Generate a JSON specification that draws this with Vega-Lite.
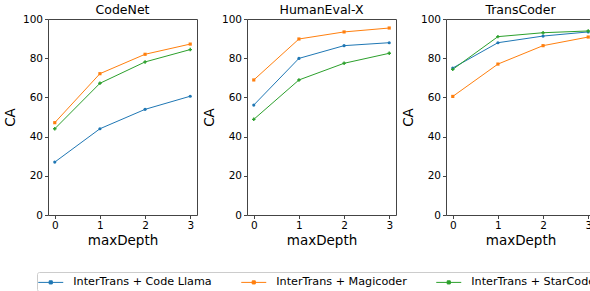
{
  "$schema": "https://vega.github.io/schema/vega-lite/v6.json",
  "padding": {"left": 2, "top": 3, "right": 0, "bottom": 0},
  "spacing": 3,
  "datasets": {
    "d": [
      {"dataset": "CodeNet", "model": "InterTrans + Code Llama", "depth": 0, "ca": 27.0},
      {"dataset": "CodeNet", "model": "InterTrans + Code Llama", "depth": 1, "ca": 44.0},
      {"dataset": "CodeNet", "model": "InterTrans + Code Llama", "depth": 2, "ca": 53.9},
      {"dataset": "CodeNet", "model": "InterTrans + Code Llama", "depth": 3, "ca": 60.6},
      {"dataset": "CodeNet", "model": "InterTrans + Magicoder", "depth": 0, "ca": 47.1},
      {"dataset": "CodeNet", "model": "InterTrans + Magicoder", "depth": 1, "ca": 72.1},
      {"dataset": "CodeNet", "model": "InterTrans + Magicoder", "depth": 2, "ca": 82.0},
      {"dataset": "CodeNet", "model": "InterTrans + Magicoder", "depth": 3, "ca": 87.2},
      {"dataset": "CodeNet", "model": "InterTrans + StarCoder2", "depth": 0, "ca": 44.0},
      {"dataset": "CodeNet", "model": "InterTrans + StarCoder2", "depth": 1, "ca": 67.2},
      {"dataset": "CodeNet", "model": "InterTrans + StarCoder2", "depth": 2, "ca": 78.1},
      {"dataset": "CodeNet", "model": "InterTrans + StarCoder2", "depth": 3, "ca": 84.4},
      {"dataset": "HumanEval-X", "model": "InterTrans + Code Llama", "depth": 0, "ca": 56.1},
      {"dataset": "HumanEval-X", "model": "InterTrans + Code Llama", "depth": 1, "ca": 79.9},
      {"dataset": "HumanEval-X", "model": "InterTrans + Code Llama", "depth": 2, "ca": 86.4},
      {"dataset": "HumanEval-X", "model": "InterTrans + Code Llama", "depth": 3, "ca": 87.9},
      {"dataset": "HumanEval-X", "model": "InterTrans + Magicoder", "depth": 0, "ca": 68.9},
      {"dataset": "HumanEval-X", "model": "InterTrans + Magicoder", "depth": 1, "ca": 89.8},
      {"dataset": "HumanEval-X", "model": "InterTrans + Magicoder", "depth": 2, "ca": 93.4},
      {"dataset": "HumanEval-X", "model": "InterTrans + Magicoder", "depth": 3, "ca": 95.4},
      {"dataset": "HumanEval-X", "model": "InterTrans + StarCoder2", "depth": 0, "ca": 48.8},
      {"dataset": "HumanEval-X", "model": "InterTrans + StarCoder2", "depth": 1, "ca": 68.9},
      {"dataset": "HumanEval-X", "model": "InterTrans + StarCoder2", "depth": 2, "ca": 77.4},
      {"dataset": "HumanEval-X", "model": "InterTrans + StarCoder2", "depth": 3, "ca": 82.5},
      {"dataset": "TransCoder", "model": "InterTrans + Code Llama", "depth": 0, "ca": 75.0},
      {"dataset": "TransCoder", "model": "InterTrans + Code Llama", "depth": 1, "ca": 87.9},
      {"dataset": "TransCoder", "model": "InterTrans + Code Llama", "depth": 2, "ca": 91.3},
      {"dataset": "TransCoder", "model": "InterTrans + Code Llama", "depth": 3, "ca": 93.4},
      {"dataset": "TransCoder", "model": "InterTrans + Magicoder", "depth": 0, "ca": 60.5},
      {"dataset": "TransCoder", "model": "InterTrans + Magicoder", "depth": 1, "ca": 77.0},
      {"dataset": "TransCoder", "model": "InterTrans + Magicoder", "depth": 2, "ca": 86.4},
      {"dataset": "TransCoder", "model": "InterTrans + Magicoder", "depth": 3, "ca": 90.8},
      {"dataset": "TransCoder", "model": "InterTrans + StarCoder2", "depth": 0, "ca": 74.3},
      {"dataset": "TransCoder", "model": "InterTrans + StarCoder2", "depth": 1, "ca": 91.0},
      {"dataset": "TransCoder", "model": "InterTrans + StarCoder2", "depth": 2, "ca": 93.0},
      {"dataset": "TransCoder", "model": "InterTrans + StarCoder2", "depth": 3, "ca": 93.9}
    ]
  },
  "config": {
    "font": "DejaVu Sans",
    "view": {"stroke": "#444", "strokeWidth": 1},
    "axis": {"grid": false, "domain": false, "labelFontSize": 10.5, "titleFontSize": 13.5, "tickColor": "#444", "tickSize": 3.5, "labelColor": "#000", "titleColor": "#000", "titleFontWeight": "normal", "labelPadding": 2, "titlePadding": 5},
    "axisX": {"titlePadding": 2},
    "title": {"fontSize": 12.5, "fontWeight": "normal", "offset": -2, "color": "#000"}
  },
  "hconcat": [
    {
      "width": 149, "height": 196,
      "title": "CodeNet",
      "data": {"name": "d"},
      "transform": [{"filter": "datum.dataset === 'CodeNet'"}],
      "encoding": {
        "x": {"field": "depth", "type": "quantitative", "scale": {"domain": [-0.15, 3.15], "nice": false, "zero": false}, "axis": {"values": [0, 1, 2, 3], "format": "d", "title": "maxDepth"}},
        "y": {"field": "ca", "type": "quantitative", "scale": {"domain": [0, 100], "nice": false}, "axis": {"values": [0, 20, 40, 60, 80, 100], "title": "CA"}},
        "color": {"field": "model", "type": "nominal", "scale": {"domain": ["InterTrans + Code Llama", "InterTrans + Magicoder", "InterTrans + StarCoder2"], "range": ["#1f77b4", "#ff7f0e", "#2ca02c"]},
          "legend": {"orient": "none", "legendX": -11, "legendY": 253, "direction": "horizontal", "title": null, "symbolType": "M-2,0H2M-0.25,-0.25H0.25V0.25H-0.25Z", "symbolSize": 156, "symbolStrokeWidth": 1, "labelFontSize": 11.2, "labelOffset": 15.5, "symbolOffset": 3.75, "columnPadding": 27, "strokeColor": "#ccc", "padding": 3, "cornerRadius": 2, "fillColor": "white", "labelLimit": 300, "labelColor": "#000",
            "encode": {"symbols": {"update": {"stroke": {"scale": "color", "field": "value"}, "fill": {"scale": "color", "field": "value"}, "strokeWidth": {"value": 1}}}}}}
      },
      "layer": [
        {"mark": {"type": "line", "strokeWidth": 1}},
        {"transform": [{"filter": "datum.model === 'InterTrans + Code Llama'"}], "mark": {"type": "point", "filled": true, "size": 10, "opacity": 1, "shape": "circle"}},
        {"transform": [{"filter": "datum.model === 'InterTrans + Magicoder'"}], "mark": {"type": "point", "filled": true, "size": 10, "opacity": 1, "shape": "square"}},
        {"transform": [{"filter": "datum.model === 'InterTrans + StarCoder2'"}], "mark": {"type": "point", "filled": true, "size": 12, "opacity": 1, "shape": "cross"}}
      ]
    },
    {
      "width": 149, "height": 196,
      "title": "HumanEval-X",
      "data": {"name": "d"},
      "transform": [{"filter": "datum.dataset === 'HumanEval-X'"}],
      "encoding": {
        "x": {"field": "depth", "type": "quantitative", "scale": {"domain": [-0.15, 3.15], "nice": false, "zero": false}, "axis": {"values": [0, 1, 2, 3], "format": "d", "title": "maxDepth"}},
        "y": {"field": "ca", "type": "quantitative", "scale": {"domain": [0, 100], "nice": false}, "axis": {"values": [0, 20, 40, 60, 80, 100], "title": "CA"}},
        "color": {"field": "model", "type": "nominal"}
      },
      "layer": [
        {"mark": {"type": "line", "strokeWidth": 1}},
        {"transform": [{"filter": "datum.model === 'InterTrans + Code Llama'"}], "mark": {"type": "point", "filled": true, "size": 10, "opacity": 1, "shape": "circle"}},
        {"transform": [{"filter": "datum.model === 'InterTrans + Magicoder'"}], "mark": {"type": "point", "filled": true, "size": 10, "opacity": 1, "shape": "square"}},
        {"transform": [{"filter": "datum.model === 'InterTrans + StarCoder2'"}], "mark": {"type": "point", "filled": true, "size": 12, "opacity": 1, "shape": "cross"}}
      ]
    },
    {
      "width": 149, "height": 196,
      "title": "TransCoder",
      "data": {"name": "d"},
      "transform": [{"filter": "datum.dataset === 'TransCoder'"}],
      "encoding": {
        "x": {"field": "depth", "type": "quantitative", "scale": {"domain": [-0.15, 3.15], "nice": false, "zero": false}, "axis": {"values": [0, 1, 2, 3], "format": "d", "title": "maxDepth"}},
        "y": {"field": "ca", "type": "quantitative", "scale": {"domain": [0, 100], "nice": false}, "axis": {"values": [0, 20, 40, 60, 80, 100], "title": "CA"}},
        "color": {"field": "model", "type": "nominal"}
      },
      "layer": [
        {"mark": {"type": "line", "strokeWidth": 1}},
        {"transform": [{"filter": "datum.model === 'InterTrans + Code Llama'"}], "mark": {"type": "point", "filled": true, "size": 10, "opacity": 1, "shape": "circle"}},
        {"transform": [{"filter": "datum.model === 'InterTrans + Magicoder'"}], "mark": {"type": "point", "filled": true, "size": 10, "opacity": 1, "shape": "square"}},
        {"transform": [{"filter": "datum.model === 'InterTrans + StarCoder2'"}], "mark": {"type": "point", "filled": true, "size": 12, "opacity": 1, "shape": "cross"}}
      ]
    }
  ]
}
